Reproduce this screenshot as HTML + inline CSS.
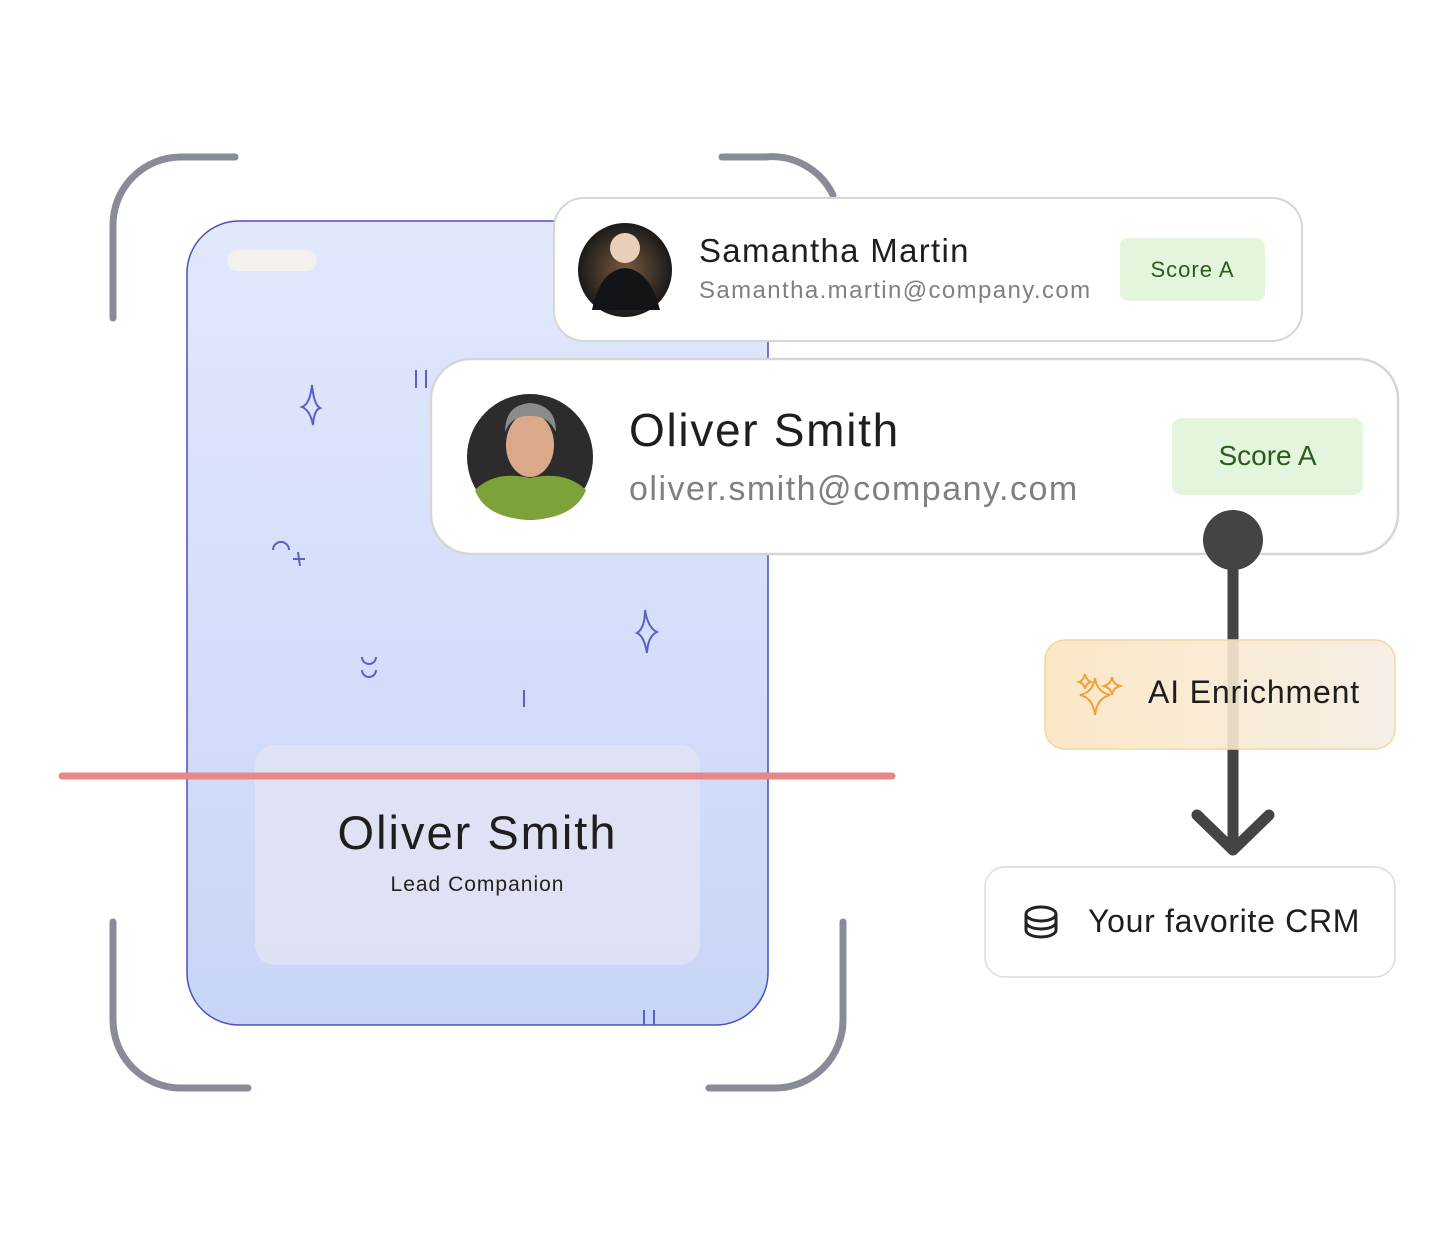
<!DOCTYPE html>
<html><head><meta charset="utf-8"><style>
body{margin:0;width:1448px;height:1248px;background:#fff;position:relative;overflow:hidden;font-family:"Liberation Sans",sans-serif}
.a{position:absolute;white-space:nowrap}
</style></head><body>
<svg class="a" style="left:0;top:0" width="1448" height="1248">
<defs>
<linearGradient id="ph" x1="0" y1="0" x2="0" y2="1"><stop offset="0" stop-color="#e1e8fc"/><stop offset="1" stop-color="#c9d5f8"/></linearGradient>
<linearGradient id="ai" x1="0" y1="0" x2="1" y2="0"><stop offset="0" stop-color="#fbe5c0" stop-opacity=".9"/><stop offset="1" stop-color="#f5ede3" stop-opacity=".9"/></linearGradient>
<radialGradient id="av1"><stop offset="0" stop-color="#7a5a40"/><stop offset="1" stop-color="#1a1a1a"/></radialGradient>
</defs>
<g fill="none" stroke="#898c97" stroke-width="7" stroke-linecap="round">
<path d="M113 318 V225 A68 68 0 0 1 181 157 H235"/>
<path d="M722 157 H765 A68 68 0 0 1 833 195"/>
<path d="M113 922 V1020 A68 68 0 0 0 181 1088 H248"/>
<path d="M843 922 V1020 A68 68 0 0 1 775 1088 H709"/>
</g>
<rect x="187" y="221" width="581" height="804" rx="52" fill="url(#ph)" stroke="#4a4fc0" stroke-width="1.5"/>
<rect x="227" y="250" width="90" height="21" rx="10.5" fill="#f3f1ec"/>
<g fill="none" stroke="#5a5fc4" stroke-width="2">
<path d="M312 385 Q314 405 320 408 Q314 410 313 425 Q310 410 302 407 Q310 404 312 385Z"/>
<path d="M416 370 V388 M426 370 V388"/>
<path d="M273 550 A8 8 0 0 1 289 550"/>
<path d="M298 552 L300 566 M293 559 L305 559"/>
<path d="M362 657 A7 7 0 0 0 376 657 M362 670 A7 7 0 0 0 376 670"/>
<path d="M524 690 V707"/>
<path d="M645 610 Q648 628 657 632 Q648 636 647 653 Q644 636 637 633 Q645 628 645 610Z"/>
<path d="M644 1010 V1025 M654 1010 V1025"/>
</g>
<rect x="255" y="745" width="445" height="220" rx="20" fill="#e2e3f4" opacity=".85"/>
<line x1="62" y1="776" x2="892" y2="776" stroke="#e8868a" stroke-width="7" stroke-linecap="round"/>
<rect x="554" y="198" width="748" height="143" rx="30" fill="#fff" stroke="#d6d6d6" stroke-width="2"/>
<circle cx="625" cy="270" r="47" fill="url(#av1)"/>
<circle cx="625" cy="248" r="15" fill="#e9cfba"/>
<path d="M592 310 Q600 270 625 268 Q650 270 660 310Z" fill="#121418"/>
<rect x="1120" y="238" width="145" height="63" rx="8" fill="#e3f5dc"/>
<rect x="431" y="359" width="967" height="195" rx="40" fill="#fff" stroke="#d6d6d6" stroke-width="2.5"/>
<circle cx="530" cy="457" r="63" fill="#2c2c2c"/>
<path d="M475 490 Q495 470 530 478 Q565 470 586 490 Q575 518 530 520 Q485 518 475 490Z" fill="#7ea23a"/>
<ellipse cx="530" cy="445" rx="24" ry="32" fill="#d9a98a"/>
<path d="M505 432 Q505 405 530 403 Q556 405 556 432 Q548 415 530 416 Q512 415 505 432Z" fill="#8b8b8b"/>
<rect x="1172" y="418" width="191" height="77" rx="10" fill="#e3f5dc"/>
<line x1="1233" y1="540" x2="1233" y2="845" stroke="#444" stroke-width="11"/>
<circle cx="1233" cy="540" r="30" fill="#444"/>
<path d="M1197 815 L1233 850 L1269 815" fill="none" stroke="#444" stroke-width="11" stroke-linecap="round" stroke-linejoin="round"/>
<rect x="1045" y="640" width="350" height="109" rx="20" fill="url(#ai)" stroke="#f5d6a3" stroke-width="1.5"/>
<g fill="none" stroke="#eda23c" stroke-width="2">
<path d="M1095 678 Q1097 692 1110 695 Q1097 698 1095 715 Q1093 698 1080 695 Q1093 692 1095 678Z"/>
<path d="M1085 674 Q1086 680 1091 682 Q1086 683 1085 689 Q1084 683 1079 682 Q1084 680 1085 674Z"/>
<path d="M1112 677 Q1113 684 1120 686 Q1113 688 1112 695 Q1111 688 1104 686 Q1111 684 1112 677Z"/>
</g>
<rect x="985" y="867" width="410" height="110" rx="20" fill="#fff" stroke="#dcdcdc" stroke-width="1.5"/>
<g fill="none" stroke="#222" stroke-width="3">
<ellipse cx="1041" cy="914" rx="15" ry="7"/>
<path d="M1026 914 V930 A15 7 0 0 0 1056 930 V914 M1026 922 A15 7 0 0 0 1056 922"/>
</g>
</svg>
<div class="a" style="left:255px;top:805px;width:445px;text-align:center;font-size:47px;letter-spacing:2px;color:#1e1e1e">Oliver Smith</div>
<div class="a" style="left:255px;top:873px;width:445px;text-align:center;font-size:21px;letter-spacing:1px;color:#222">Lead Companion</div>
<div class="a" style="left:699px;top:232px;font-size:33px;letter-spacing:1.3px;color:#1e1e1e">Samantha Martin</div>
<div class="a" style="left:699px;top:277px;font-size:24px;letter-spacing:1.4px;color:#808080">Samantha.martin@company.com</div>
<div class="a" style="left:1120px;top:257px;width:145px;text-align:center;font-size:22px;letter-spacing:1px;color:#2d5a1e">Score A</div>
<div class="a" style="left:629px;top:403px;font-size:46px;letter-spacing:1.7px;color:#1e1e1e">Oliver Smith</div>
<div class="a" style="left:629px;top:470px;font-size:34px;letter-spacing:1.5px;color:#808080">oliver.smith@company.com</div>
<div class="a" style="left:1172px;top:440px;width:191px;text-align:center;font-size:28px;color:#2d5a1e">Score A</div>
<div class="a" style="left:1148px;top:674px;font-size:32px;letter-spacing:0.85px;color:#1e1e1e">AI Enrichment</div>
<div class="a" style="left:1088px;top:903px;font-size:32px;letter-spacing:0.7px;color:#1e1e1e">Your favorite CRM</div>
</body></html>
